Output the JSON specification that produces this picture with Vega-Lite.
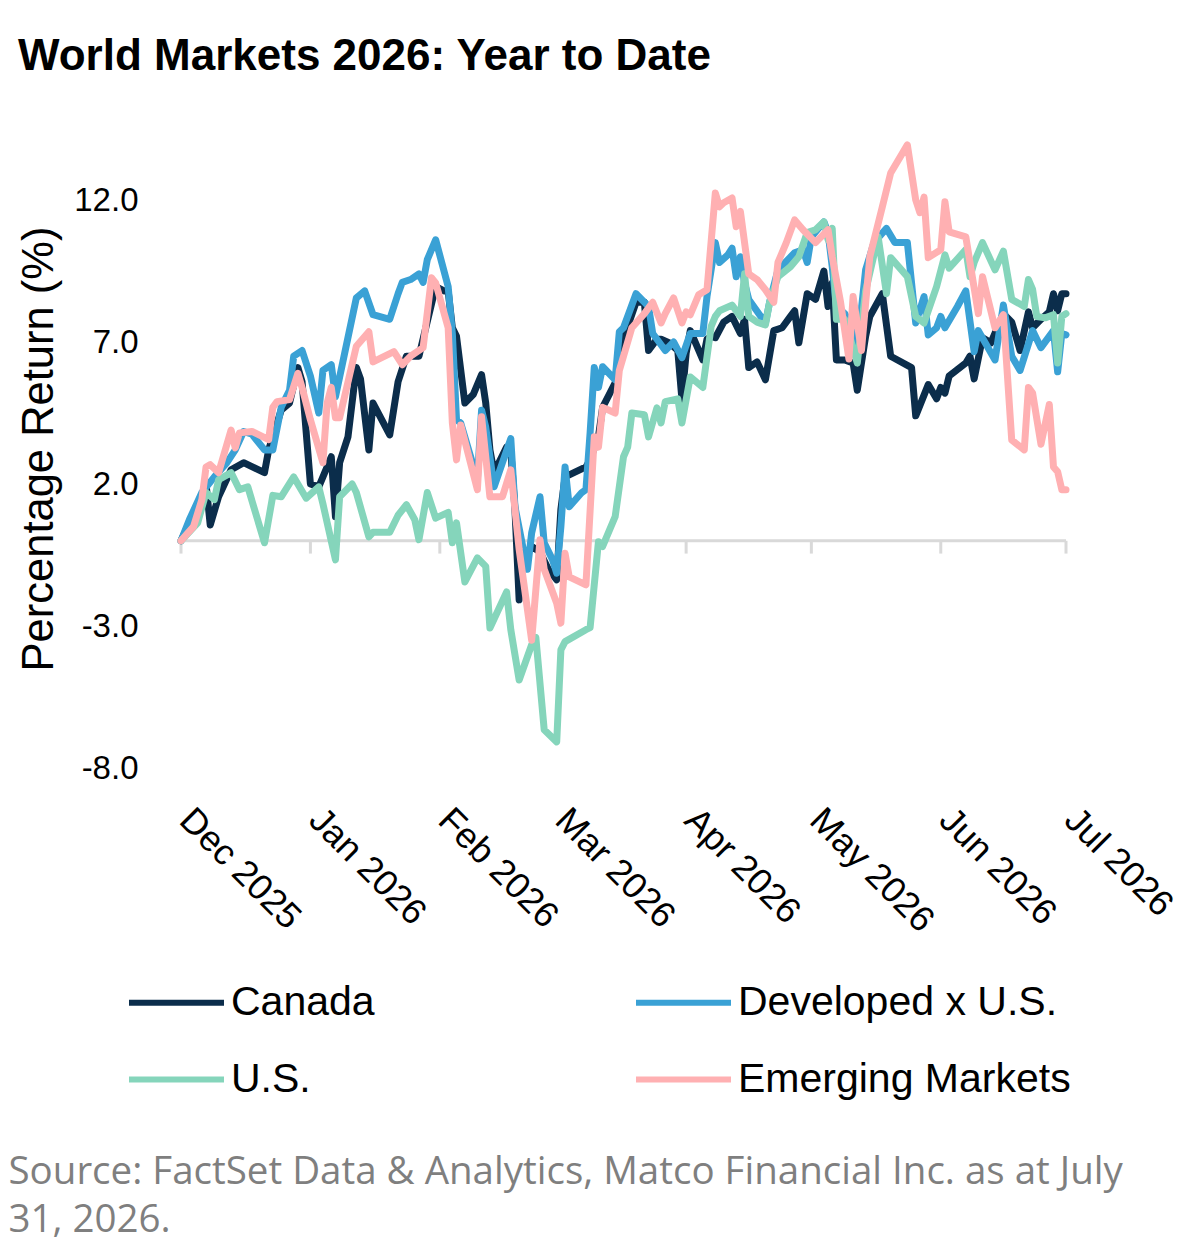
{
"$schema": "https://vega.github.io/schema/vega-lite/v6.json",
"width": 885, "height": 639,
"autosize": {"type": "none"},
"padding": {"left": 181, "top": 129, "right": 134, "bottom": 476},
"background": "white",
"config": {"view": {"stroke": null}},
"title": {"text": "World Markets 2026: Year to Date", "anchor": "start", "frame": "group", "dx": -163, "offset": 15, "baseline": "alphabetic", "font": "Liberation Sans", "fontSize": 44, "fontWeight": "bold", "color": "#000000"},
"datasets": {
"months": [{"date":"2025-12-01"},{"date":"2026-01-01"},{"date":"2026-02-01"},{"date":"2026-03-01"},{"date":"2026-04-01"},{"date":"2026-05-01"},{"date":"2026-06-01"},{"date":"2026-07-01"}],
"series": [
{"date":"2025-12-01","market":"Canada","value":0},
{"date":"2025-12-06","market":"Canada","value":1.55},
{"date":"2025-12-07","market":"Canada","value":2.0},
{"date":"2025-12-08","market":"Canada","value":0.56},
{"date":"2025-12-10","market":"Canada","value":1.55},
{"date":"2025-12-13","market":"Canada","value":2.5},
{"date":"2025-12-16","market":"Canada","value":2.75},
{"date":"2025-12-21","market":"Canada","value":2.4},
{"date":"2025-12-22","market":"Canada","value":3.2},
{"date":"2025-12-25","market":"Canada","value":4.6},
{"date":"2025-12-27","market":"Canada","value":4.85},
{"date":"2025-12-29","market":"Canada","value":6.1},
{"date":"2025-12-30","market":"Canada","value":5.6},
{"date":"2026-01-01","market":"Canada","value":2.0},
{"date":"2026-01-03","market":"Canada","value":1.9},
{"date":"2026-01-04","market":"Canada","value":2.25},
{"date":"2026-01-06","market":"Canada","value":2.96},
{"date":"2026-01-07","market":"Canada","value":0.85},
{"date":"2026-01-08","market":"Canada","value":2.75},
{"date":"2026-01-10","market":"Canada","value":3.66},
{"date":"2026-01-12","market":"Canada","value":6.1},
{"date":"2026-01-13","market":"Canada","value":5.7},
{"date":"2026-01-15","market":"Canada","value":3.2},
{"date":"2026-01-16","market":"Canada","value":4.85},
{"date":"2026-01-20","market":"Canada","value":3.73},
{"date":"2026-01-22","market":"Canada","value":5.6},
{"date":"2026-01-24","market":"Canada","value":6.5},
{"date":"2026-01-27","market":"Canada","value":6.5},
{"date":"2026-01-31","market":"Canada","value":8.95},
{"date":"2026-02-02","market":"Canada","value":8.8},
{"date":"2026-02-03","market":"Canada","value":8.8},
{"date":"2026-02-04","market":"Canada","value":7.5},
{"date":"2026-02-05","market":"Canada","value":7.2},
{"date":"2026-02-07","market":"Canada","value":4.85},
{"date":"2026-02-09","market":"Canada","value":5.15},
{"date":"2026-02-11","market":"Canada","value":5.85},
{"date":"2026-02-12","market":"Canada","value":4.85},
{"date":"2026-02-13","market":"Canada","value":3.2},
{"date":"2026-02-14","market":"Canada","value":2.4},
{"date":"2026-02-17","market":"Canada","value":3.3},
{"date":"2026-02-18","market":"Canada","value":3.2},
{"date":"2026-02-19","market":"Canada","value":1.1},
{"date":"2026-02-20","market":"Canada","value":-2.08},
{"date":"2026-02-21","market":"Canada","value":-0.56},
{"date":"2026-02-23","market":"Canada","value":-0.2},
{"date":"2026-02-25","market":"Canada","value":-0.4},
{"date":"2026-02-27","market":"Canada","value":-1.0},
{"date":"2026-03-01","market":"Canada","value":-1.37},
{"date":"2026-03-02","market":"Canada","value":1.1},
{"date":"2026-03-03","market":"Canada","value":2.25},
{"date":"2026-03-08","market":"Canada","value":2.6},
{"date":"2026-03-09","market":"Canada","value":2.85},
{"date":"2026-03-11","market":"Canada","value":3.66},
{"date":"2026-03-12","market":"Canada","value":4.7},
{"date":"2026-03-15","market":"Canada","value":5.56},
{"date":"2026-03-16","market":"Canada","value":6.7},
{"date":"2026-03-20","market":"Canada","value":8.4},
{"date":"2026-03-22","market":"Canada","value":8.4},
{"date":"2026-03-23","market":"Canada","value":6.7},
{"date":"2026-03-25","market":"Canada","value":7.1},
{"date":"2026-03-26","market":"Canada","value":7.1},
{"date":"2026-03-28","market":"Canada","value":6.97},
{"date":"2026-03-30","market":"Canada","value":6.7},
{"date":"2026-03-31","market":"Canada","value":4.97},
{"date":"2026-04-01","market":"Canada","value":6.6},
{"date":"2026-04-02","market":"Canada","value":7.4},
{"date":"2026-04-05","market":"Canada","value":6.37},
{"date":"2026-04-06","market":"Canada","value":7.1},
{"date":"2026-04-07","market":"Canada","value":7.2},
{"date":"2026-04-08","market":"Canada","value":7.15},
{"date":"2026-04-10","market":"Canada","value":7.7},
{"date":"2026-04-12","market":"Canada","value":7.9},
{"date":"2026-04-14","market":"Canada","value":7.3},
{"date":"2026-04-15","market":"Canada","value":7.8},
{"date":"2026-04-16","market":"Canada","value":6.1},
{"date":"2026-04-18","market":"Canada","value":6.3},
{"date":"2026-04-20","market":"Canada","value":5.67},
{"date":"2026-04-22","market":"Canada","value":7.4},
{"date":"2026-04-24","market":"Canada","value":7.5},
{"date":"2026-04-26","market":"Canada","value":7.9},
{"date":"2026-04-27","market":"Canada","value":8.1},
{"date":"2026-04-28","market":"Canada","value":6.97},
{"date":"2026-04-30","market":"Canada","value":8.7},
{"date":"2026-05-02","market":"Canada","value":8.5},
{"date":"2026-05-04","market":"Canada","value":9.5},
{"date":"2026-05-05","market":"Canada","value":8.25},
{"date":"2026-05-06","market":"Canada","value":9.08},
{"date":"2026-05-07","market":"Canada","value":6.37},
{"date":"2026-05-09","market":"Canada","value":6.37},
{"date":"2026-05-11","market":"Canada","value":6.26},
{"date":"2026-05-12","market":"Canada","value":5.3},
{"date":"2026-05-14","market":"Canada","value":7.2},
{"date":"2026-05-15","market":"Canada","value":7.9},
{"date":"2026-05-18","market":"Canada","value":8.7},
{"date":"2026-05-20","market":"Canada","value":6.5},
{"date":"2026-05-25","market":"Canada","value":6.1},
{"date":"2026-05-26","market":"Canada","value":4.4},
{"date":"2026-05-29","market":"Canada","value":5.5},
{"date":"2026-05-31","market":"Canada","value":5.0},
{"date":"2026-06-01","market":"Canada","value":5.4},
{"date":"2026-06-02","market":"Canada","value":5.2},
{"date":"2026-06-03","market":"Canada","value":5.8},
{"date":"2026-06-07","market":"Canada","value":6.26},
{"date":"2026-06-08","market":"Canada","value":6.5},
{"date":"2026-06-09","market":"Canada","value":5.7},
{"date":"2026-06-11","market":"Canada","value":7.15},
{"date":"2026-06-13","market":"Canada","value":6.97},
{"date":"2026-06-16","market":"Canada","value":8.0},
{"date":"2026-06-18","market":"Canada","value":7.7},
{"date":"2026-06-20","market":"Canada","value":6.7},
{"date":"2026-06-22","market":"Canada","value":8.06},
{"date":"2026-06-23","market":"Canada","value":7.5},
{"date":"2026-06-25","market":"Canada","value":7.8},
{"date":"2026-06-27","market":"Canada","value":8.06},
{"date":"2026-06-28","market":"Canada","value":8.7},
{"date":"2026-06-29","market":"Canada","value":8.1},
{"date":"2026-06-30","market":"Canada","value":8.7},
{"date":"2026-07-01","market":"Canada","value":8.7},
{"date":"2025-12-01","market":"Developed x U.S.","value":0},
{"date":"2025-12-03","market":"Developed x U.S.","value":0.74},
{"date":"2025-12-06","market":"Developed x U.S.","value":1.7},
{"date":"2025-12-09","market":"Developed x U.S.","value":2.25},
{"date":"2025-12-12","market":"Developed x U.S.","value":2.75},
{"date":"2025-12-14","market":"Developed x U.S.","value":3.2},
{"date":"2025-12-16","market":"Developed x U.S.","value":3.85},
{"date":"2025-12-18","market":"Developed x U.S.","value":3.75},
{"date":"2025-12-21","market":"Developed x U.S.","value":3.2},
{"date":"2025-12-23","market":"Developed x U.S.","value":3.2},
{"date":"2025-12-25","market":"Developed x U.S.","value":4.7},
{"date":"2025-12-27","market":"Developed x U.S.","value":5.3},
{"date":"2025-12-28","market":"Developed x U.S.","value":6.5},
{"date":"2025-12-30","market":"Developed x U.S.","value":6.7},
{"date":"2026-01-01","market":"Developed x U.S.","value":5.8},
{"date":"2026-01-03","market":"Developed x U.S.","value":4.5},
{"date":"2026-01-04","market":"Developed x U.S.","value":6.0},
{"date":"2026-01-06","market":"Developed x U.S.","value":6.2},
{"date":"2026-01-07","market":"Developed x U.S.","value":5.07},
{"date":"2026-01-12","market":"Developed x U.S.","value":8.55},
{"date":"2026-01-14","market":"Developed x U.S.","value":8.8},
{"date":"2026-01-16","market":"Developed x U.S.","value":7.96},
{"date":"2026-01-20","market":"Developed x U.S.","value":7.8},
{"date":"2026-01-22","market":"Developed x U.S.","value":8.7},
{"date":"2026-01-23","market":"Developed x U.S.","value":9.1},
{"date":"2026-01-25","market":"Developed x U.S.","value":9.2},
{"date":"2026-01-27","market":"Developed x U.S.","value":9.4},
{"date":"2026-01-28","market":"Developed x U.S.","value":9.1},
{"date":"2026-01-29","market":"Developed x U.S.","value":9.9},
{"date":"2026-01-31","market":"Developed x U.S.","value":10.6},
{"date":"2026-02-03","market":"Developed x U.S.","value":8.95},
{"date":"2026-02-04","market":"Developed x U.S.","value":7.3},
{"date":"2026-02-05","market":"Developed x U.S.","value":4.26},
{"date":"2026-02-06","market":"Developed x U.S.","value":4.15},
{"date":"2026-02-10","market":"Developed x U.S.","value":2.15},
{"date":"2026-02-11","market":"Developed x U.S.","value":4.6},
{"date":"2026-02-12","market":"Developed x U.S.","value":4.0},
{"date":"2026-02-14","market":"Developed x U.S.","value":1.9},
{"date":"2026-02-16","market":"Developed x U.S.","value":2.75},
{"date":"2026-02-18","market":"Developed x U.S.","value":3.6},
{"date":"2026-02-19","market":"Developed x U.S.","value":1.2},
{"date":"2026-02-21","market":"Developed x U.S.","value":-0.3},
{"date":"2026-02-22","market":"Developed x U.S.","value":-1.0},
{"date":"2026-02-23","market":"Developed x U.S.","value":0.28},
{"date":"2026-02-25","market":"Developed x U.S.","value":1.55},
{"date":"2026-02-26","market":"Developed x U.S.","value":-0.07},
{"date":"2026-02-28","market":"Developed x U.S.","value":-0.67},
{"date":"2026-03-01","market":"Developed x U.S.","value":-1.14},
{"date":"2026-03-02","market":"Developed x U.S.","value":0.5},
{"date":"2026-03-03","market":"Developed x U.S.","value":2.6},
{"date":"2026-03-04","market":"Developed x U.S.","value":1.2},
{"date":"2026-03-07","market":"Developed x U.S.","value":1.7},
{"date":"2026-03-08","market":"Developed x U.S.","value":1.8},
{"date":"2026-03-09","market":"Developed x U.S.","value":3.8},
{"date":"2026-03-10","market":"Developed x U.S.","value":6.1},
{"date":"2026-03-11","market":"Developed x U.S.","value":5.4},
{"date":"2026-03-12","market":"Developed x U.S.","value":6.13},
{"date":"2026-03-15","market":"Developed x U.S.","value":5.67},
{"date":"2026-03-16","market":"Developed x U.S.","value":7.36},
{"date":"2026-03-17","market":"Developed x U.S.","value":7.5},
{"date":"2026-03-20","market":"Developed x U.S.","value":8.7},
{"date":"2026-03-23","market":"Developed x U.S.","value":8.25},
{"date":"2026-03-24","market":"Developed x U.S.","value":7.3},
{"date":"2026-03-27","market":"Developed x U.S.","value":6.7},
{"date":"2026-03-29","market":"Developed x U.S.","value":7.0},
{"date":"2026-03-31","market":"Developed x U.S.","value":6.45},
{"date":"2026-04-02","market":"Developed x U.S.","value":7.3},
{"date":"2026-04-04","market":"Developed x U.S.","value":7.3},
{"date":"2026-04-05","market":"Developed x U.S.","value":7.3},
{"date":"2026-04-06","market":"Developed x U.S.","value":8.6},
{"date":"2026-04-08","market":"Developed x U.S.","value":10.5},
{"date":"2026-04-09","market":"Developed x U.S.","value":9.8},
{"date":"2026-04-11","market":"Developed x U.S.","value":10.07},
{"date":"2026-04-12","market":"Developed x U.S.","value":10.3},
{"date":"2026-04-13","market":"Developed x U.S.","value":9.3},
{"date":"2026-04-14","market":"Developed x U.S.","value":10.0},
{"date":"2026-04-15","market":"Developed x U.S.","value":9.08},
{"date":"2026-04-16","market":"Developed x U.S.","value":8.5},
{"date":"2026-04-20","market":"Developed x U.S.","value":7.67},
{"date":"2026-04-21","market":"Developed x U.S.","value":8.4},
{"date":"2026-04-23","market":"Developed x U.S.","value":9.54},
{"date":"2026-04-27","market":"Developed x U.S.","value":10.14},
{"date":"2026-04-29","market":"Developed x U.S.","value":10.25},
{"date":"2026-04-30","market":"Developed x U.S.","value":9.8},
{"date":"2026-05-01","market":"Developed x U.S.","value":10.7},
{"date":"2026-05-04","market":"Developed x U.S.","value":11.23},
{"date":"2026-05-05","market":"Developed x U.S.","value":10.85},
{"date":"2026-05-06","market":"Developed x U.S.","value":9.65},
{"date":"2026-05-07","market":"Developed x U.S.","value":8.25},
{"date":"2026-05-09","market":"Developed x U.S.","value":8.0},
{"date":"2026-05-11","market":"Developed x U.S.","value":7.4},
{"date":"2026-05-12","market":"Developed x U.S.","value":6.8},
{"date":"2026-05-14","market":"Developed x U.S.","value":9.54},
{"date":"2026-05-16","market":"Developed x U.S.","value":10.5},
{"date":"2026-05-19","market":"Developed x U.S.","value":11.0},
{"date":"2026-05-21","market":"Developed x U.S.","value":10.5},
{"date":"2026-05-24","market":"Developed x U.S.","value":10.5},
{"date":"2026-05-26","market":"Developed x U.S.","value":7.67},
{"date":"2026-05-28","market":"Developed x U.S.","value":8.6},
{"date":"2026-05-29","market":"Developed x U.S.","value":7.25},
{"date":"2026-05-31","market":"Developed x U.S.","value":7.5},
{"date":"2026-06-01","market":"Developed x U.S.","value":7.9},
{"date":"2026-06-02","market":"Developed x U.S.","value":7.5},
{"date":"2026-06-05","market":"Developed x U.S.","value":8.25},
{"date":"2026-06-07","market":"Developed x U.S.","value":8.8},
{"date":"2026-06-09","market":"Developed x U.S.","value":6.66},
{"date":"2026-06-10","market":"Developed x U.S.","value":7.4},
{"date":"2026-06-14","market":"Developed x U.S.","value":6.37},
{"date":"2026-06-16","market":"Developed x U.S.","value":8.3},
{"date":"2026-06-18","market":"Developed x U.S.","value":6.5},
{"date":"2026-06-20","market":"Developed x U.S.","value":6.0},
{"date":"2026-06-23","market":"Developed x U.S.","value":7.4},
{"date":"2026-06-25","market":"Developed x U.S.","value":6.8},
{"date":"2026-06-28","market":"Developed x U.S.","value":7.4},
{"date":"2026-06-29","market":"Developed x U.S.","value":5.95},
{"date":"2026-06-30","market":"Developed x U.S.","value":7.3},
{"date":"2026-07-01","market":"Developed x U.S.","value":7.25},
{"date":"2025-12-01","market":"U.S.","value":0},
{"date":"2025-12-05","market":"U.S.","value":0.63},
{"date":"2025-12-07","market":"U.S.","value":1.7},
{"date":"2025-12-09","market":"U.S.","value":1.45},
{"date":"2025-12-10","market":"U.S.","value":2.15},
{"date":"2025-12-13","market":"U.S.","value":2.4},
{"date":"2025-12-15","market":"U.S.","value":1.8},
{"date":"2025-12-17","market":"U.S.","value":1.9},
{"date":"2025-12-21","market":"U.S.","value":-0.07},
{"date":"2025-12-23","market":"U.S.","value":1.6},
{"date":"2025-12-25","market":"U.S.","value":1.55},
{"date":"2025-12-28","market":"U.S.","value":2.25},
{"date":"2025-12-31","market":"U.S.","value":1.5},
{"date":"2026-01-03","market":"U.S.","value":1.9},
{"date":"2026-01-04","market":"U.S.","value":1.3},
{"date":"2026-01-07","market":"U.S.","value":-0.67},
{"date":"2026-01-08","market":"U.S.","value":1.55},
{"date":"2026-01-11","market":"U.S.","value":2.0},
{"date":"2026-01-12","market":"U.S.","value":1.7},
{"date":"2026-01-15","market":"U.S.","value":0.14},
{"date":"2026-01-16","market":"U.S.","value":0.3},
{"date":"2026-01-20","market":"U.S.","value":0.3},
{"date":"2026-01-22","market":"U.S.","value":0.9},
{"date":"2026-01-24","market":"U.S.","value":1.27},
{"date":"2026-01-26","market":"U.S.","value":0.74},
{"date":"2026-01-27","market":"U.S.","value":0.04},
{"date":"2026-01-29","market":"U.S.","value":1.7},
{"date":"2026-01-31","market":"U.S.","value":0.8},
{"date":"2026-02-03","market":"U.S.","value":1.0},
{"date":"2026-02-04","market":"U.S.","value":-0.07},
{"date":"2026-02-05","market":"U.S.","value":0.63},
{"date":"2026-02-07","market":"U.S.","value":-1.45},
{"date":"2026-02-10","market":"U.S.","value":-0.6},
{"date":"2026-02-12","market":"U.S.","value":-0.9},
{"date":"2026-02-13","market":"U.S.","value":-3.07},
{"date":"2026-02-17","market":"U.S.","value":-1.8},
{"date":"2026-02-18","market":"U.S.","value":-3.13},
{"date":"2026-02-20","market":"U.S.","value":-4.9},
{"date":"2026-02-23","market":"U.S.","value":-3.66},
{"date":"2026-02-24","market":"U.S.","value":-3.4},
{"date":"2026-02-26","market":"U.S.","value":-6.65},
{"date":"2026-03-01","market":"U.S.","value":-7.08},
{"date":"2026-03-02","market":"U.S.","value":-3.84},
{"date":"2026-03-03","market":"U.S.","value":-3.55},
{"date":"2026-03-08","market":"U.S.","value":-3.13},
{"date":"2026-03-09","market":"U.S.","value":-3.06},
{"date":"2026-03-11","market":"U.S.","value":-0.03},
{"date":"2026-03-12","market":"U.S.","value":-0.2},
{"date":"2026-03-15","market":"U.S.","value":0.85},
{"date":"2026-03-17","market":"U.S.","value":2.96},
{"date":"2026-03-18","market":"U.S.","value":3.3},
{"date":"2026-03-19","market":"U.S.","value":4.5},
{"date":"2026-03-22","market":"U.S.","value":4.44},
{"date":"2026-03-23","market":"U.S.","value":3.66},
{"date":"2026-03-25","market":"U.S.","value":4.68},
{"date":"2026-03-26","market":"U.S.","value":4.15},
{"date":"2026-03-27","market":"U.S.","value":4.9},
{"date":"2026-03-30","market":"U.S.","value":5.0},
{"date":"2026-03-31","market":"U.S.","value":4.15},
{"date":"2026-04-02","market":"U.S.","value":5.77},
{"date":"2026-04-05","market":"U.S.","value":5.4},
{"date":"2026-04-07","market":"U.S.","value":7.55},
{"date":"2026-04-08","market":"U.S.","value":7.9},
{"date":"2026-04-09","market":"U.S.","value":8.1},
{"date":"2026-04-12","market":"U.S.","value":8.3},
{"date":"2026-04-14","market":"U.S.","value":7.9},
{"date":"2026-04-15","market":"U.S.","value":9.4},
{"date":"2026-04-16","market":"U.S.","value":7.9},
{"date":"2026-04-18","market":"U.S.","value":7.7},
{"date":"2026-04-20","market":"U.S.","value":7.6},
{"date":"2026-04-21","market":"U.S.","value":8.4},
{"date":"2026-04-23","market":"U.S.","value":9.3},
{"date":"2026-04-26","market":"U.S.","value":9.65},
{"date":"2026-04-28","market":"U.S.","value":10.0},
{"date":"2026-04-30","market":"U.S.","value":10.85},
{"date":"2026-05-02","market":"U.S.","value":10.95},
{"date":"2026-05-04","market":"U.S.","value":11.23},
{"date":"2026-05-05","market":"U.S.","value":10.6},
{"date":"2026-05-06","market":"U.S.","value":11.0},
{"date":"2026-05-07","market":"U.S.","value":7.8},
{"date":"2026-05-09","market":"U.S.","value":7.8},
{"date":"2026-05-12","market":"U.S.","value":6.26},
{"date":"2026-05-14","market":"U.S.","value":8.8},
{"date":"2026-05-17","market":"U.S.","value":10.7},
{"date":"2026-05-19","market":"U.S.","value":8.7},
{"date":"2026-05-20","market":"U.S.","value":9.97},
{"date":"2026-05-24","market":"U.S.","value":9.3},
{"date":"2026-05-26","market":"U.S.","value":7.9},
{"date":"2026-05-28","market":"U.S.","value":7.67},
{"date":"2026-05-31","market":"U.S.","value":8.95},
{"date":"2026-06-02","market":"U.S.","value":10.07},
{"date":"2026-06-03","market":"U.S.","value":9.6},
{"date":"2026-06-07","market":"U.S.","value":10.25},
{"date":"2026-06-08","market":"U.S.","value":9.3},
{"date":"2026-06-09","market":"U.S.","value":9.8},
{"date":"2026-06-11","market":"U.S.","value":10.5},
{"date":"2026-06-14","market":"U.S.","value":9.54},
{"date":"2026-06-16","market":"U.S.","value":10.2},
{"date":"2026-06-18","market":"U.S.","value":8.5},
{"date":"2026-06-21","market":"U.S.","value":8.25},
{"date":"2026-06-22","market":"U.S.","value":9.2},
{"date":"2026-06-23","market":"U.S.","value":8.85},
{"date":"2026-06-24","market":"U.S.","value":7.9},
{"date":"2026-06-26","market":"U.S.","value":7.85},
{"date":"2026-06-28","market":"U.S.","value":7.96},
{"date":"2026-06-29","market":"U.S.","value":6.26},
{"date":"2026-06-30","market":"U.S.","value":7.9},
{"date":"2026-07-01","market":"U.S.","value":8.0},
{"date":"2025-12-01","market":"Emerging Markets","value":0},
{"date":"2025-12-04","market":"Emerging Markets","value":0.5},
{"date":"2025-12-06","market":"Emerging Markets","value":1.45},
{"date":"2025-12-07","market":"Emerging Markets","value":2.6},
{"date":"2025-12-08","market":"Emerging Markets","value":2.68},
{"date":"2025-12-10","market":"Emerging Markets","value":2.4},
{"date":"2025-12-13","market":"Emerging Markets","value":3.9},
{"date":"2025-12-14","market":"Emerging Markets","value":3.27},
{"date":"2025-12-15","market":"Emerging Markets","value":3.8},
{"date":"2025-12-18","market":"Emerging Markets","value":3.85},
{"date":"2025-12-22","market":"Emerging Markets","value":3.56},
{"date":"2025-12-23","market":"Emerging Markets","value":4.7},
{"date":"2025-12-24","market":"Emerging Markets","value":4.9},
{"date":"2025-12-27","market":"Emerging Markets","value":4.97},
{"date":"2025-12-29","market":"Emerging Markets","value":5.9},
{"date":"2025-12-30","market":"Emerging Markets","value":5.4},
{"date":"2026-01-01","market":"Emerging Markets","value":4.26},
{"date":"2026-01-04","market":"Emerging Markets","value":2.75},
{"date":"2026-01-05","market":"Emerging Markets","value":4.85},
{"date":"2026-01-06","market":"Emerging Markets","value":5.4},
{"date":"2026-01-07","market":"Emerging Markets","value":4.33},
{"date":"2026-01-08","market":"Emerging Markets","value":4.33},
{"date":"2026-01-12","market":"Emerging Markets","value":6.85},
{"date":"2026-01-15","market":"Emerging Markets","value":7.36},
{"date":"2026-01-16","market":"Emerging Markets","value":6.3},
{"date":"2026-01-21","market":"Emerging Markets","value":6.66},
{"date":"2026-01-23","market":"Emerging Markets","value":6.2},
{"date":"2026-01-25","market":"Emerging Markets","value":6.5},
{"date":"2026-01-28","market":"Emerging Markets","value":6.8},
{"date":"2026-01-30","market":"Emerging Markets","value":9.26},
{"date":"2026-01-31","market":"Emerging Markets","value":9.08},
{"date":"2026-02-03","market":"Emerging Markets","value":7.5},
{"date":"2026-02-04","market":"Emerging Markets","value":4.15},
{"date":"2026-02-05","market":"Emerging Markets","value":2.85},
{"date":"2026-02-06","market":"Emerging Markets","value":4.08},
{"date":"2026-02-10","market":"Emerging Markets","value":1.8},
{"date":"2026-02-11","market":"Emerging Markets","value":4.37},
{"date":"2026-02-13","market":"Emerging Markets","value":1.55},
{"date":"2026-02-16","market":"Emerging Markets","value":1.55},
{"date":"2026-02-18","market":"Emerging Markets","value":2.5},
{"date":"2026-02-20","market":"Emerging Markets","value":-0.3},
{"date":"2026-02-23","market":"Emerging Markets","value":-3.5},
{"date":"2026-02-25","market":"Emerging Markets","value":0.04},
{"date":"2026-02-26","market":"Emerging Markets","value":-1.0},
{"date":"2026-03-01","market":"Emerging Markets","value":-2.2},
{"date":"2026-03-02","market":"Emerging Markets","value":-2.9},
{"date":"2026-03-03","market":"Emerging Markets","value":-0.44},
{"date":"2026-03-04","market":"Emerging Markets","value":-1.27},
{"date":"2026-03-08","market":"Emerging Markets","value":-1.55},
{"date":"2026-03-10","market":"Emerging Markets","value":3.66},
{"date":"2026-03-11","market":"Emerging Markets","value":3.3},
{"date":"2026-03-12","market":"Emerging Markets","value":4.7},
{"date":"2026-03-15","market":"Emerging Markets","value":4.5},
{"date":"2026-03-16","market":"Emerging Markets","value":6.0},
{"date":"2026-03-17","market":"Emerging Markets","value":6.5},
{"date":"2026-03-19","market":"Emerging Markets","value":7.5},
{"date":"2026-03-22","market":"Emerging Markets","value":8.0},
{"date":"2026-03-24","market":"Emerging Markets","value":8.4},
{"date":"2026-03-26","market":"Emerging Markets","value":7.67},
{"date":"2026-03-27","market":"Emerging Markets","value":8.0},
{"date":"2026-03-29","market":"Emerging Markets","value":8.55},
{"date":"2026-03-31","market":"Emerging Markets","value":7.67},
{"date":"2026-04-01","market":"Emerging Markets","value":8.06},
{"date":"2026-04-02","market":"Emerging Markets","value":7.96},
{"date":"2026-04-04","market":"Emerging Markets","value":8.66},
{"date":"2026-04-06","market":"Emerging Markets","value":8.84},
{"date":"2026-04-08","market":"Emerging Markets","value":12.25},
{"date":"2026-04-09","market":"Emerging Markets","value":11.76},
{"date":"2026-04-10","market":"Emerging Markets","value":11.9},
{"date":"2026-04-12","market":"Emerging Markets","value":12.07},
{"date":"2026-04-13","market":"Emerging Markets","value":11.06},
{"date":"2026-04-14","market":"Emerging Markets","value":11.6},
{"date":"2026-04-16","market":"Emerging Markets","value":9.4},
{"date":"2026-04-18","market":"Emerging Markets","value":9.2},
{"date":"2026-04-20","market":"Emerging Markets","value":8.84},
{"date":"2026-04-22","market":"Emerging Markets","value":8.4},
{"date":"2026-04-23","market":"Emerging Markets","value":9.8},
{"date":"2026-04-25","market":"Emerging Markets","value":10.5},
{"date":"2026-04-27","market":"Emerging Markets","value":11.3},
{"date":"2026-04-29","market":"Emerging Markets","value":10.95},
{"date":"2026-05-02","market":"Emerging Markets","value":10.5},
{"date":"2026-05-05","market":"Emerging Markets","value":10.95},
{"date":"2026-05-06","market":"Emerging Markets","value":10.0},
{"date":"2026-05-08","market":"Emerging Markets","value":8.4},
{"date":"2026-05-10","market":"Emerging Markets","value":6.4},
{"date":"2026-05-11","market":"Emerging Markets","value":8.6},
{"date":"2026-05-13","market":"Emerging Markets","value":6.7},
{"date":"2026-05-15","market":"Emerging Markets","value":10.0},
{"date":"2026-05-18","market":"Emerging Markets","value":11.76},
{"date":"2026-05-20","market":"Emerging Markets","value":12.95},
{"date":"2026-05-24","market":"Emerging Markets","value":13.94},
{"date":"2026-05-26","market":"Emerging Markets","value":12.0},
{"date":"2026-05-27","market":"Emerging Markets","value":11.55},
{"date":"2026-05-28","market":"Emerging Markets","value":12.1},
{"date":"2026-05-29","market":"Emerging Markets","value":9.97},
{"date":"2026-06-01","market":"Emerging Markets","value":10.25},
{"date":"2026-06-02","market":"Emerging Markets","value":11.94},
{"date":"2026-06-03","market":"Emerging Markets","value":10.88},
{"date":"2026-06-07","market":"Emerging Markets","value":10.7},
{"date":"2026-06-10","market":"Emerging Markets","value":8.0},
{"date":"2026-06-11","market":"Emerging Markets","value":9.3},
{"date":"2026-06-14","market":"Emerging Markets","value":7.5},
{"date":"2026-06-16","market":"Emerging Markets","value":7.96},
{"date":"2026-06-18","market":"Emerging Markets","value":3.55},
{"date":"2026-06-21","market":"Emerging Markets","value":3.2},
{"date":"2026-06-22","market":"Emerging Markets","value":5.4},
{"date":"2026-06-23","market":"Emerging Markets","value":5.2},
{"date":"2026-06-25","market":"Emerging Markets","value":3.4},
{"date":"2026-06-27","market":"Emerging Markets","value":4.8},
{"date":"2026-06-28","market":"Emerging Markets","value":2.6},
{"date":"2026-06-29","market":"Emerging Markets","value":2.43},
{"date":"2026-06-30","market":"Emerging Markets","value":1.8},
{"date":"2026-07-01","market":"Emerging Markets","value":1.8}
]
},
"layer": [
{
"data": {"values": [{"zero": 0}]},
"mark": {"type": "rule", "color": "#d9d9d9", "strokeWidth": 3},
"encoding": {
"y": {"field": "zero", "type": "quantitative", "scale": {"domain": [-8, 14.5], "nice": false, "zero": false},
"axis": {"title": "Percentage Return (%)", "values": [-8, -3, 2, 7, 12], "labelExpr": "datum.value < 0 ? '-' + format(-datum.value, '.1f') : format(datum.value, '.1f')", "ticks": false, "domain": false, "grid": false, "labelFont": "Liberation Sans", "labelFontSize": 33, "labelColor": "#000000", "labelPadding": 43, "titleFont": "Liberation Sans", "titleFontSize": 43.5, "titleFontWeight": "normal", "titleColor": "#000000", "titlePadding": 12}}
}
},
{
"data": {"name": "months"},
"mark": {"type": "rule", "color": "#d9d9d9", "strokeWidth": 3},
"encoding": {
"x": {"field": "date", "type": "temporal", "scale": {"type": "utc", "domain": [{"year": 2025, "month": 12, "date": 1, "utc": true}, {"year": 2026, "month": 7, "date": 1, "utc": true}]},
"axis": {"title": ["Source: FactSet Data & Analytics, Matco Financial Inc. as at July", "31, 2026."], "values": [{"year": 2025, "month": 12, "date": 1, "utc": true}, {"year": 2026, "month": 1, "date": 1, "utc": true}, {"year": 2026, "month": 2, "date": 1, "utc": true}, {"year": 2026, "month": 3, "date": 1, "utc": true}, {"year": 2026, "month": 4, "date": 1, "utc": true}, {"year": 2026, "month": 5, "date": 1, "utc": true}, {"year": 2026, "month": 6, "date": 1, "utc": true}, {"year": 2026, "month": 7, "date": 1, "utc": true}], "format": "%b %Y", "labelAngle": 45, "labelAlign": "left", "labelBaseline": "middle", "labelPadding": 46, "labelOffset": 4, "labelFont": "Liberation Sans", "labelFontSize": 36, "labelColor": "#000000", "ticks": false, "domain": false, "grid": false, "labelOverlap": false, "labelBound": false, "labelFlush": false, "titleX": -173, "titleY": 415, "titleAlign": "left", "titleAngle": 0, "titleBaseline": "alphabetic", "titleFont": "Open Sans", "titleFontSize": 38.5, "titleFontWeight": "normal", "titleColor": "#7f7f7f", "titleLineHeight": 48}},
"y": {"datum": 0, "type": "quantitative"},
"y2": {"datum": -0.45}
}
},
{
"data": {"name": "series"},
"mark": {"type": "line", "strokeWidth": 7, "strokeJoin": "round", "strokeCap": "round"},
"encoding": {
"x": {"field": "date", "type": "temporal"},
"y": {"field": "value", "type": "quantitative"},
"color": {"field": "market", "type": "nominal",
"scale": {"domain": ["Canada", "Developed x U.S.", "U.S.", "Emerging Markets"], "range": ["#0b2d4b", "#3aa1d5", "#85d5bb", "#ffb0b2"]},
"legend": {"orient": "none", "legendX": -55, "legendY": 823, "direction": "horizontal", "columns": 2, "title": null, "symbolType": "stroke", "symbolSize": 9025, "symbolStrokeWidth": 6, "labelFont": "Liberation Sans", "labelFontSize": 41, "labelColor": "#000000", "labelOffset": 4, "columnPadding": 249, "rowPadding": 6, "padding": 0, "labelLimit": 600}}
}
}
]
}
